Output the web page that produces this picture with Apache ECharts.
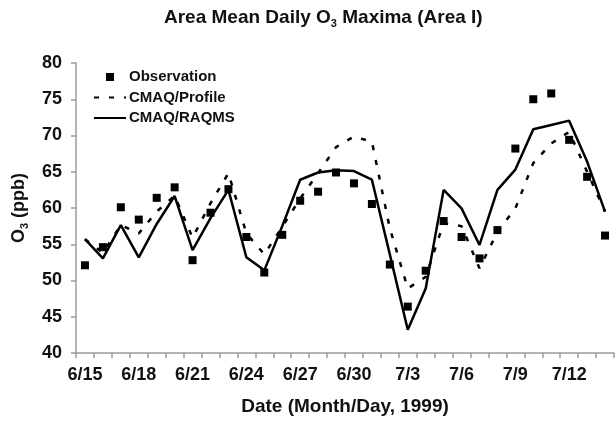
<!DOCTYPE html>
<html>
<head>
<meta charset="utf-8">
<script src="https://cdn.jsdelivr.net/npm/echarts@6/dist/echarts.min.js"></script>
<style>
  html, body { margin: 0; padding: 0; background: #fff; }
  #chart { width: 616px; height: 422px; }
</style>
</head>
<body>
<div id="chart"></div>
<script>
// Daily dates, 15 June – 14 July 1999
const dates = [
  '6/15','6/16','6/17','6/18','6/19','6/20','6/21','6/22','6/23','6/24',
  '6/25','6/26','6/27','6/28','6/29','6/30','7/1','7/2','7/3','7/4',
  '7/5','7/6','7/7','7/8','7/9','7/10','7/11','7/12','7/13','7/14'
];

// Area-mean daily O3 maxima (ppb)
const observation = [
  52.1, 54.6, 60.1, 58.4, 61.4, 62.85, 52.8, 59.35, 62.6, 56.0,
  51.1, 56.3, 61.0, 62.25, 64.9, 63.4, 60.55, 52.2, 46.4, 51.35,
  58.2, 56.0, 53.05, 56.95, 68.2, 75.0, 75.8, 69.4, 64.3, 56.2
];
const cmaqProfile = [
  55.7, 53.8, 57.65, 56.5, 59.5, 61.7, 55.9, 60.65, 64.8, 56.5,
  53.6, 57.4, 61.3, 64.8, 68.4, 69.85, 69.15, 57.2, 48.9, 50.5,
  57.9, 57.5, 51.7, 56.7, 59.95, 66.2, 68.9, 70.5, 65.0, 59.5
];
const cmaqRaqms = [
  55.7, 53.05, 57.65, 53.2, 57.8, 61.65, 54.2, 58.6, 62.5, 53.2,
  51.4, 57.5, 63.9, 64.9, 65.2, 65.1, 63.9, 53.6, 43.2, 48.9,
  62.5, 59.95, 54.9, 62.5, 65.3, 70.85, 71.45, 72.05, 66.4, 59.5
];

// Y axis range (ppb)
const yMin = 40, yMax = 80, yStep = 5;

const FONT = '"Liberation Sans", Arial, sans-serif';
const axisGray = '#9a9a9a';
const subStyle = { fontFamily: FONT, fontWeight: 'bold', fontSize: 11, verticalAlign: 'bottom', lineHeight: 11, color: '#111' };

const chart = echarts.init(document.getElementById('chart'), null, { renderer: 'canvas' });

chart.setOption({
  animation: false,
  backgroundColor: '#ffffff',
  title: {
    text: 'Area Mean Daily O{sub|3} Maxima (Area I)',
    left: 164,
    top: 7,
    padding: 0,
    textStyle: {
      fontFamily: FONT, fontWeight: 'bold', fontSize: 19, color: '#111',
      lineHeight: 22,
      rich: { sub: subStyle }
    }
  },
  legend: {
    orient: 'vertical',
    left: 93,
    top: 67,
    padding: 0,
    itemWidth: 32,
    itemHeight: 8,
    itemGap: 0.5,
    textStyle: { fontFamily: FONT, fontWeight: 'bold', fontSize: 15, lineHeight: 20, color: '#111', padding: [0, 0, 0, -2] },
    data: [
      { name: 'Observation', icon: 'path://M0,0L8,0L8,8L0,8Z' },
      { name: 'CMAQ/Profile', itemStyle: { opacity: 0 } },
      { name: 'CMAQ/RAQMS', itemStyle: { opacity: 0 } }
    ]
  },
  grid: { left: 74, right: 2, top: 63, bottom: 69, containLabel: false },
  xAxis: {
    type: 'category',
    data: dates,
    boundaryGap: true,
    name: 'Date (Month/Day, 1999)',
    nameLocation: 'middle',
    nameGap: 44,
    nameTextStyle: { fontFamily: FONT, fontWeight: 'bold', fontSize: 19, color: '#111' },
    axisLine: { lineStyle: { color: axisGray, width: 1.5 } },
    axisTick: { show: true, interval: 0, length: 5, lineStyle: { color: axisGray, width: 1.5 } },
    axisLabel: {
      interval: 2, margin: 13,
      fontFamily: FONT, fontWeight: 'bold', fontSize: 18, color: '#111'
    },
    splitLine: { show: false }
  },
  yAxis: {
    type: 'value',
    min: yMin, max: yMax, interval: yStep,
    name: 'O{sub|3} (ppb)',
    nameLocation: 'middle',
    nameGap: 46,
    nameRotate: 90,
    nameTextStyle: {
      fontFamily: FONT, fontWeight: 'bold', fontSize: 18, color: '#111', lineHeight: 22,
      rich: { sub: subStyle }
    },
    axisLine: { show: true, lineStyle: { color: axisGray, width: 1.5 } },
    axisTick: { show: true, length: 5, lineStyle: { color: axisGray, width: 1.5 } },
    axisLabel: { margin: 14, fontFamily: FONT, fontWeight: 'bold', fontSize: 18, color: '#111' },
    splitLine: { show: false }
  },
  series: [
    {
      name: 'Observation',
      type: 'scatter',
      data: observation,
      symbol: 'rect',
      symbolSize: 8,
      itemStyle: { color: '#000', opacity: 1 },
      z: 3
    },
    {
      name: 'CMAQ/Profile',
      type: 'line',
      data: cmaqProfile,
      showSymbol: false,
      symbol: 'none',
      lineStyle: { color: '#000', width: 2.5, type: [5, 10] },
      itemStyle: { color: '#000' },
      z: 2
    },
    {
      name: 'CMAQ/RAQMS',
      type: 'line',
      data: cmaqRaqms,
      showSymbol: false,
      symbol: 'none',
      lineStyle: { color: '#000', width: 2.5 },
      itemStyle: { color: '#000' },
      z: 2
    }
  ]
});
</script>
</body>
</html>
